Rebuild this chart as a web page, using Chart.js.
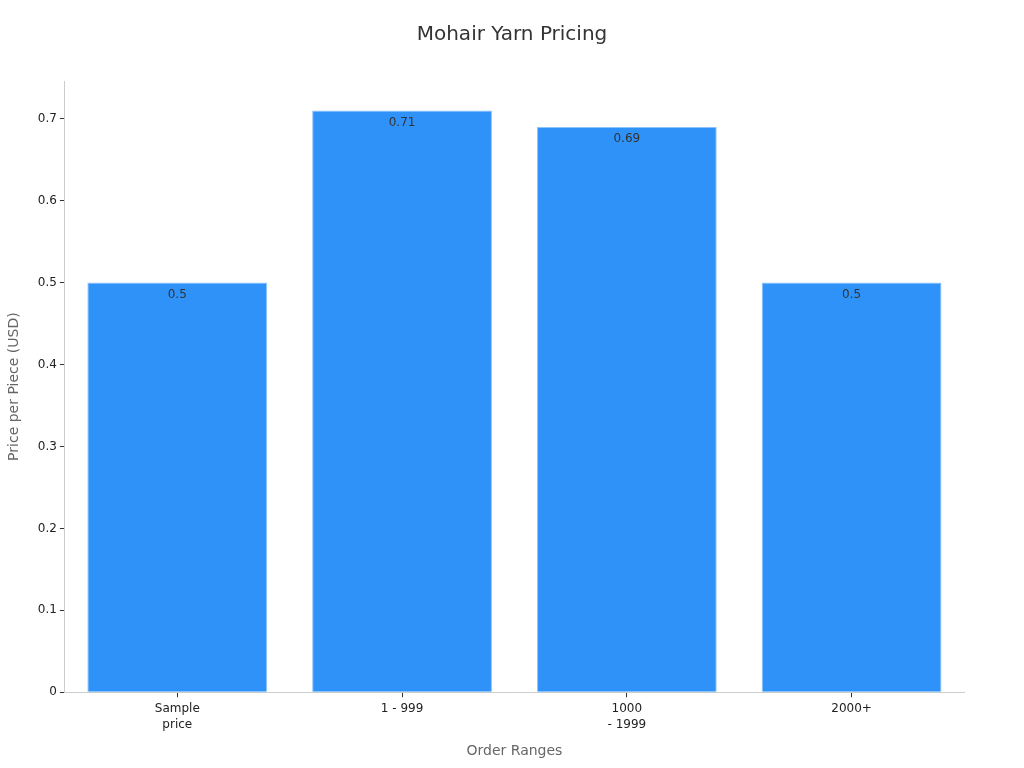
<!DOCTYPE html>
<html>
<head>
<meta charset="utf-8">
<script src="https://cdn.jsdelivr.net/npm/chart.js@4.4.1/dist/chart.umd.min.js"></script>
<style>
  html, body { margin: 0; padding: 0; background: #fff; }
  #wrap { width: 1024px; height: 768px; }
</style>
</head>
<body>
<div id="wrap"><canvas id="chart" width="1024" height="768"></canvas></div>
<script>
// data
const categories = [['Sample', 'price'], '1 - 999', ['1000', '- 1999'], '2000+'];
const prices = [0.5, 0.71, 0.69, 0.5];
const yTicks = [0, 0.1, 0.2, 0.3, 0.4, 0.5, 0.6, 0.7];
const chartTitle = 'Mohair Yarn Pricing';

// writes the value just inside the top of each bar, and the title centred on the page
const barValueLabels = {
  id: 'barValueLabels',
  afterDatasetsDraw(chart) {
    const ctx = chart.ctx;
    const meta = chart.getDatasetMeta(0);
    ctx.save();
    ctx.font = '12px "DejaVu Sans"';
    ctx.fillStyle = '#333';
    ctx.textAlign = 'center';
    ctx.textBaseline = 'top';
    meta.data.forEach((bar, i) => {
      ctx.fillText(String(prices[i]), bar.x, bar.y + 6);
    });
    ctx.font = '20px "DejaVu Sans"';
    ctx.textBaseline = 'middle';
    ctx.fillText(chartTitle, chart.width / 2, 35);
    ctx.restore();
  }
};

new Chart(document.getElementById('chart'), {
  type: 'bar',
  data: {
    labels: categories,
    datasets: [{
      data: prices,
      backgroundColor: '#2f92f9',
      borderColor: '#8fc4fb',
      borderWidth: 1,
      barPercentage: 0.8,
      categoryPercentage: 1.0
    }]
  },
  options: {
    responsive: false,
    animation: false,
    layout: { padding: { left: 2, right: 60, top: 81, bottom: 4 } },
    plugins: {
      legend: { display: false },
      tooltip: { enabled: false },
      title: { display: false }
    },
    scales: {
      x: {
        grid: { display: true, drawOnChartArea: false, offset: false, tickLength: 5, color: '#333' },
        border: { color: '#ccc' },
        ticks: { color: '#222', font: { family: 'DejaVu Sans', size: 12, lineHeight: 1.33 }, padding: 4 },
        title: {
          display: true, text: 'Order Ranges', color: '#666',
          font: { family: 'DejaVu Sans', size: 14 }, padding: { top: 6 }
        }
      },
      y: {
        min: 0,
        max: 0.746,
        afterBuildTicks(axis) { axis.ticks = yTicks.map(v => ({ value: v })); },
        grid: { display: true, drawOnChartArea: false, tickLength: 5, color: '#333' },
        border: { color: '#ccc' },
        ticks: {
          color: '#222', font: { family: 'DejaVu Sans', size: 12 }, padding: 3,
          callback: v => String(v)
        },
        title: {
          display: true, text: 'Price per Piece (USD)', color: '#666',
          font: { family: 'DejaVu Sans', size: 14 }, padding: { bottom: 12 }
        }
      }
    }
  },
  plugins: [barValueLabels]
});
</script>
</body>
</html>
